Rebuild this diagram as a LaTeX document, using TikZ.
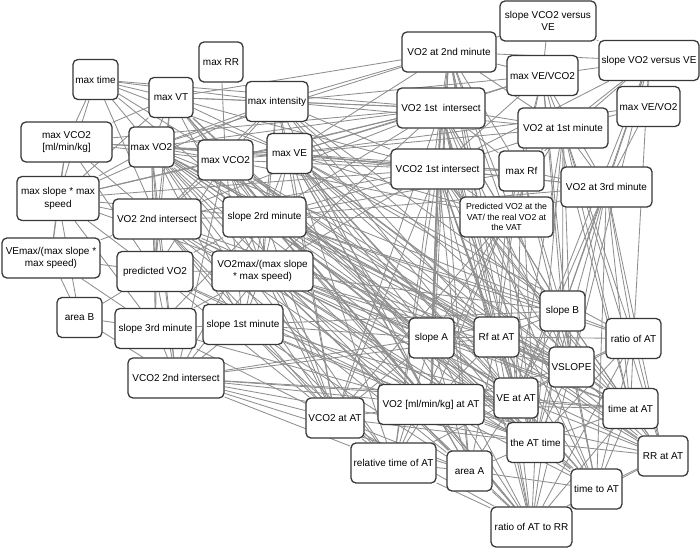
\documentclass[tikz,border=0pt]{standalone}
\usepackage{fontspec}
\setmainfont{Liberation Sans}
\usetikzlibrary{backgrounds}
\definecolor{boxline}{HTML}{383838}
\definecolor{linkline}{HTML}{8E8E8E}
\newlength\pxu
\setlength\pxu{0.025cm}

\begin{document}
\begin{tikzpicture}[x=\pxu, y=-\pxu,
    box/.style={draw=boxline, line width=0.9pt, fill=white, rounded corners=3.5pt,
      minimum height=40\pxu, inner sep=1pt, align=center,
      font=\fontsize{7.1}{9}\selectfont},
    link/.style={draw=linkline, line width=0.6pt}]
  \useasboundingbox (0,0) rectangle (700,548);
  % left group
  \node[box, minimum width=45\pxu] (mt) at (95.5,79.5) {max time};
  \node[box, minimum width=44\pxu] (mrr) at (221,62) {max RR};
  \node[box, minimum width=44\pxu] (mvt) at (171,97.5) {max VT};
  \node[box, minimum width=62\pxu] (mint) at (277,101.5) {max intensity};
  \node[box, minimum width=91\pxu] (mvck) at (66.5,142) {max VCO2\\{}[ml/min/kg]};
  \node[box, minimum width=45\pxu] (mvo) at (151.5,147) {max VO2};
  \node[box, minimum width=55\pxu] (mvc) at (225.5,160) {max VCO2};
  \node[box, minimum width=45\pxu] (mve) at (289.5,153.5) {max VE};
  \node[box, minimum width=82\pxu, minimum height=44\pxu] (mss) at (58,198.5) {max slope * max\\speed};
  \node[box, minimum width=88\pxu] (vo2i) at (157,219) {VO2 2nd intersect};
  \node[box, minimum width=83\pxu] (s2) at (264.5,217) {slope 2rd minute};
  \node[box, minimum width=98\pxu] (vem) at (51,258) {VEmax/(max slope *\\max speed)};
  \node[box, minimum width=76\pxu] (pvo) at (155,271.5) {predicted VO2};
  \node[box, minimum width=101\pxu] (vomx) at (262.5,271) {VO2max/(max slope\\* max speed)};
  \node[box, minimum width=45\pxu] (arb) at (79.5,317.5) {area B};
  \node[box, minimum width=81\pxu] (s3) at (155.5,328.5) {slope 3rd minute};
  \node[box, minimum width=80\pxu] (s1) at (243,324.5) {slope 1st minute};
  \node[box, minimum width=96\pxu] (vc2i) at (176,378) {VCO2 2nd intersect};
  % upper right group
  \node[box, minimum width=96\pxu] (svcve) at (548,21) {slope VCO2 versus\\VE};
  \node[box, minimum width=94\pxu] (vo2m2) at (449,52) {VO2 at 2nd minute};
  \node[box, minimum width=71\pxu] (mevc) at (542.5,75.5) {max VE/VCO2};
  \node[box, minimum width=100\pxu] (svove) at (649,60.5) {slope VO2 versus VE};
  \node[box, minimum width=63\pxu] (mevo) at (648.5,106.5) {max VE/VO2};
  \node[box, minimum width=88\pxu] (vo1i) at (441,108) {VO2 1st \ intersect};
  \node[box, minimum width=90\pxu] (vo2m1) at (563,128) {VO2 at 1st minute};
  \node[box, minimum width=93\pxu] (vc1i) at (437.5,169) {VCO2 1st intersect};
  \node[box, minimum width=45\pxu] (mrf) at (521.5,171) {max Rf};
  \node[box, minimum width=91\pxu] (vo2m3) at (606.5,187) {VO2 at 3rd minute};
  \node[box, minimum width=93\pxu, font=\fontsize{6.2}{7.6}\selectfont] (pvat) at (506.5,217)
    {Predicted VO2 at the\\VAT/ the real VO2 at\\the VAT};
  % lower right group
  \node[box, minimum width=45\pxu] (sb) at (562.5,311) {slope B};
  \node[box, minimum width=45\pxu] (sa) at (431.5,338) {slope A};
  \node[box, minimum width=45\pxu] (rfat) at (496.5,337) {Rf at AT};
  \node[box, minimum width=55\pxu] (rat) at (633.5,338.5) {ratio of AT};
  \node[box, minimum width=45\pxu] (vsl) at (571.5,367) {VSLOPE};
  \node[box, minimum width=106\pxu] (voat) at (431,404.5) {VO2 [ml/min/kg] at AT};
  \node[box, minimum width=44\pxu] (veat) at (516,398) {VE at AT};
  \node[box, minimum width=55\pxu] (tat) at (630.5,408.5) {time at AT};
  \node[box, minimum width=58\pxu] (vcat) at (335,418) {VCO2 at AT};
  \node[box, minimum width=57\pxu] (att) at (535.5,442.5) {the AT time};
  \node[box, minimum width=50\pxu] (rrat) at (663,456) {RR at AT};
  \node[box, minimum width=85\pxu] (rel) at (393.5,463) {relative time of AT};
  \node[box, minimum width=45\pxu] (ara) at (469.5,471) {area A};
  \node[box, minimum width=51\pxu] (tta) at (596.5,489) {time to AT};
  \node[box, minimum width=81\pxu] (ratrr) at (531.5,527) {ratio of AT to RR};

  \begin{scope}[on background layer]
    \foreach \b in {mvt,mint,mvck,mvo,mvc,mss,vo2i,s2,mve,vo1i}
      \draw[link] (mt) -- (\b);
    \draw[link] (mrr) -- (mvc);
    \foreach \b in {mint,mvo,mvc,mve,mvck,s2,vo2i,pvo,vomx,vo1i,vo2m2,vc1i,voat,att,sa,mss}
      \draw[link] (mvt) -- (\b);
    \foreach \b in {mvo,mvc,mve,s2,vo2i,vo1i,vo2m2,vc1i,mevc,voat,veat,vcat,tat,rfat,sb,vo2m1,mss,vomx}
      \draw[link] (mint) -- (\b);
    \foreach \b in {mvo,mss,vem,mvc,vo2i,pvo,mve,vo1i}
      \draw[link] (mvck) -- (\b);
    \foreach \b in {mvc,mve,vo2i,s2,pvo,vomx,s3,s1,vc2i,mss,vo1i,vc1i,vo2m2,voat,vcat,veat,att,rel,sa,rfat,sb,vsl,tat,mrf,ara}
      \draw[link] (mvo) -- (\b);
    \foreach \b in {mve,s2,vo2i,pvo,vomx,s1,vc2i,vo1i,vc1i,voat,vcat,veat,att,rfat,vsl,rrat,ratrr,tta,pvat,mss}
      \draw[link] (mvc) -- (\b);
    \foreach \b in {s2,vomx,vo1i,vc1i,vo2m2,mrf,vo2m1,pvat,voat,veat,vcat,att,sa,rfat,sb,vsl,rat,tat,rrat,tta,ara,rel,ratrr,mevc,mevo,vo2m3}
      \draw[link] (mve) -- (\b);
    \foreach \b in {vem,vo2i,pvo,arb,s2,vomx,vc1i,vo1i,s3}
      \draw[link] (mss) -- (\b);
    \foreach \b in {s2,pvo,vomx,s3,s1,vc2i,vc1i,vo1i,voat,vcat,att,sa,rel,ara,rfat,veat}
      \draw[link] (vo2i) -- (\b);
    \foreach \b in {vomx,pvo,s1,s3,vc2i,vc1i,vo1i,voat,veat,vcat,att,sb,vsl,tat,rat,rrat,tta,ratrr,pvat,mrf,vo2m3}
      \draw[link] (s2) -- (\b);
    \foreach \b in {pvo,arb,s3,vo2i}
      \draw[link] (vem) -- (\b);
    \foreach \b in {vomx,s3,s1,vc2i,arb,voat,vcat,att}
      \draw[link] (pvo) -- (\b);
    \foreach \b in {s1,s3,vc2i,voat,veat,vcat,att,rfat,sa,sb,vsl,tat,rrat,ratrr,tta,ara,rel,vc1i,vo1i}
      \draw[link] (vomx) -- (\b);
    \foreach \b in {s3,vc2i}
      \draw[link] (arb) -- (\b);
    \foreach \b in {s1,vc2i,vcat,voat}
      \draw[link] (s3) -- (\b);
    \foreach \b in {vc2i,vcat,voat,att,sa,rel,ara,veat,sb}
      \draw[link] (s1) -- (\b);
    \foreach \b in {vcat,voat,rel,veat,att,sa,ara,rfat,tat}
      \draw[link] (vc2i) -- (\b);
    % upper right
    \foreach \b in {svove,vo2m2,mevc}
      \draw[link] (svcve) -- (\b);
    \foreach \b in {mevc,svove,vo1i,vc1i,vo2m1,mrf,pvat,sa,rfat,voat,veat,att,vsl}
      \draw[link] (vo2m2) -- (\b);
    \foreach \b in {svove,vo1i,vo2m1,vc1i,mrf,vo2m3,pvat,sb,vsl,tat}
      \draw[link] (mevc) -- (\b);
    \foreach \b in {mevo,vo2m1,vo2m3,mrf,vc1i,sb,vsl,veat,rat}
      \draw[link] (svove) -- (\b);
    \foreach \b in {vo2m3,vo2m1}
      \draw[link] (mevo) -- (\b);
    \foreach \b in {vc1i,vo2m1,mrf,pvat,voat,veat,vcat,att,sa,rfat,sb,vsl,rel,ara,ratrr,tta}
      \draw[link] (vo1i) -- (\b);
    \foreach \b in {vc1i,mrf,vo2m3,pvat,sb,vsl,rat,tat,veat,att,rrat}
      \draw[link] (vo2m1) -- (\b);
    \foreach \b in {mrf,pvat,vo2m3,voat,veat,vcat,att,sa,rfat,sb,vsl,rel,ara,ratrr,tta,tat,rrat}
      \draw[link] (vc1i) -- (\b);
    \foreach \b in {vo2m3,pvat,sb,vsl,veat,att,rfat}
      \draw[link] (mrf) -- (\b);
    \foreach \b in {sb,vsl,rat,tat,rrat,veat,pvat,tta,att}
      \draw[link] (vo2m3) -- (\b);
    \foreach \b in {sa,rfat,sb,veat,voat,vcat,att,rel}
      \draw[link] (pvat) -- (\b);
    % lower right
    \foreach \b in {rfat,sb,vsl,voat,veat,vcat,att,rel,ara,ratrr,tat}
      \draw[link] (sa) -- (\b);
    \foreach \b in {sb,vsl,rat,voat,veat,att,tat,rrat,tta,ratrr,ara}
      \draw[link] (rfat) -- (\b);
    \foreach \b in {rat,vsl,veat,tat,att,rrat,tta,ratrr}
      \draw[link] (sb) -- (\b);
    \foreach \b in {vsl,tat,rrat,veat,att,tta,ratrr}
      \draw[link] (rat) -- (\b);
    \foreach \b in {veat,tat,att,rrat,tta,ratrr,voat}
      \draw[link] (vsl) -- (\b);
    \foreach \b in {vcat,veat,rel,ara,att,ratrr,tta,tat,rrat}
      \draw[link] (voat) -- (\b);
    \foreach \b in {att,tat,rrat,tta,ratrr,ara,rel}
      \draw[link] (veat) -- (\b);
    \foreach \b in {att,rrat,tta,ratrr}
      \draw[link] (tat) -- (\b);
    \foreach \b in {rel,ara,ratrr,att}
      \draw[link] (vcat) -- (\b);
    \foreach \b in {rrat,tta,ratrr,ara}
      \draw[link] (att) -- (\b);
    \foreach \b in {tta,ratrr}
      \draw[link] (rrat) -- (\b);
    \draw[link] (rel) -- (ara);
    \draw[link] (rel) -- (ratrr);
    \draw[link] (ara) -- (ratrr);
    \draw[link] (ara) -- (tta);
    \draw[link] (tta) -- (ratrr);
  \end{scope}
\end{tikzpicture}
\end{document}
